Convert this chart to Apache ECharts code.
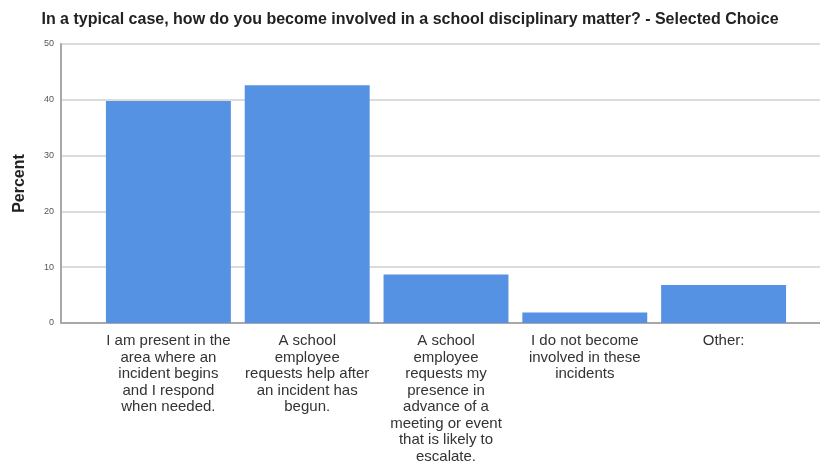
<!DOCTYPE html>
<html><head><meta charset="utf-8">
<script src="https://cdn.jsdelivr.net/npm/echarts@6/dist/echarts.min.js"></script>
<style>html,body{margin:0;padding:0;background:#fff}#c{width:820px;height:466px}</style>
</head><body><div id="c"></div>
<script>
const titleText = "In a typical case, how do you become involved in a school disciplinary matter? - Selected Choice";
const categories = [
  "I am present in the\narea where an\nincident begins\nand I respond\nwhen needed.",
  "A school\nemployee\nrequests help after\nan incident has\nbegun.",
  "A school\nemployee\nrequests my\npresence in\nadvance of a\nmeeting or event\nthat is likely to\nescalate.",
  "I do not become\ninvolved in these\nincidents",
  "Other:"
];
const percentValues = [39.8, 42.6, 8.7, 1.9, 6.8];
const yTicks = [0, 10, 20, 30, 40, 50];

const chart = echarts.init(document.getElementById('c'));
const font = "'Liberation Sans', Arial, sans-serif";
chart.setOption({
  animation: false,
  textStyle: {fontFamily: font},
  title: {
    text: titleText, left: 'center', top: 7,
    textStyle: {fontSize: 16, fontWeight: 'bold', color: '#222', fontFamily: font}
  },
  grid: [
    {left: 61, right: 0, top: 44, bottom: 143},
    {left: 99, right: 27, top: 44, bottom: 143}
  ],
  xAxis: [
    {gridIndex: 0, type: 'value', min: 0, max: 1, axisLabel: {show: false}, axisTick: {show: false},
     splitLine: {show: false}, axisLine: {show: true, lineStyle: {color: '#a8a8a8', width: 2}}},
    {gridIndex: 1, type: 'category', data: categories, axisLine: {show: false}, axisTick: {show: false},
     axisLabel: {interval: 0, margin: 10, fontSize: 15, lineHeight: 16.5, color: '#333', fontFamily: font}}
  ],
  yAxis: [
    {gridIndex: 0, type: 'value', min: yTicks[0], max: yTicks[yTicks.length-1], interval: 10,
     name: 'Percent', nameLocation: 'middle', nameRotate: 90, nameGap: 33,
     nameTextStyle: {fontSize: 16, fontWeight: 'bold', color: '#222', fontFamily: font},
     axisLine: {show: true, lineStyle: {color: '#a8a8a8', width: 2}}, axisTick: {show: false},
     axisLabel: {fontSize: 9, color: '#555', margin: 7},
     splitLine: {show: true, lineStyle: {color: '#dcdcdc', width: 2}}},
    {gridIndex: 1, type: 'value', min: 0, max: 50, show: false, splitLine: {show: false}}
  ],
  series: [{
    type: 'bar', xAxisIndex: 1, yAxisIndex: 1, data: percentValues,
    barCategoryGap: '10%', itemStyle: {color: '#5592e3'}
  }]
});
</script></body></html>
